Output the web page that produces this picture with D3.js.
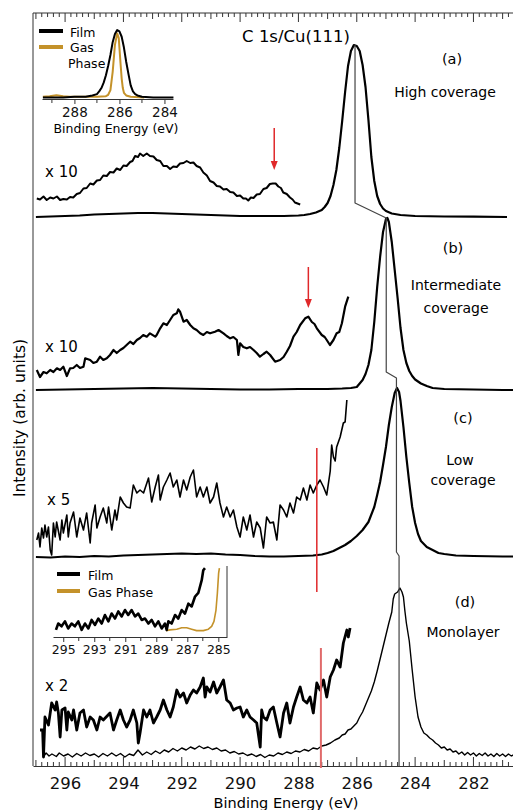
<!DOCTYPE html>
<html>
<head>
<meta charset="utf-8">
<script src="https://cdn.jsdelivr.net/npm/d3@7"></script>
<style>
  body { margin: 0; background: #fff; }
  svg { font-family: "DejaVu Sans", "Liberation Sans", Arial, sans-serif; }
</style>
</head>
<body>
<div id="chart"></div>
<script>
// ---- data: [binding energy (eV), intensity above the spectrum's own baseline] ----
const offsets = { a: 549, b: 376, c: 209, d: 9 };

const mainA = [[297.0,0],[296.5,0.5],[296,1],[295.5,1.5],[295,2.5],[294.5,3],[294,3.5],[293.5,4],[293,4],[292.5,3.5],[292,3],[291.5,2.5],[291,2],[290.5,1.5],[290,1],[289.5,1],[289,1],[288.5,1],[288,1.5],[287.8,2],[287.6,3],[287.4,4.5],[287.2,7],[287.1,10],[287.0,14],[286.9,21],[286.8,32],[286.7,47],[286.6,69],[286.5,96],[286.4,125],[286.3,151],[286.2,166],[286.1,172],[286.0,171],[285.9,166],[285.8,152],[285.7,130],[285.6,97],[285.5,60],[285.4,36],[285.3,21],[285.2,13],[285.1,8.5],[285.0,6],[284.8,3.5],[284.5,2],[284.0,1],[283.0,0.5],[282.0,0.3],[280.85,0]];

const x10A = [[296.97,18.5],[296.86,17.5],[296.74,20.5],[296.63,17],[296.51,19.5],[296.4,18.5],[296.28,20.5],[296.17,17],[296.06,18],[295.94,17.5],[295.83,20],[295.72,19.5],[295.6,23],[295.49,24],[295.37,28.5],[295.26,29],[295.14,33.5],[295.03,32.5],[294.91,36.5],[294.8,37],[294.69,41.5],[294.57,41],[294.46,45],[294.34,44.5],[294.23,48.5],[294.11,47],[294.0,51.5],[293.89,51],[293.77,55],[293.69,56],[293.6,61],[293.5,60],[293.43,63.5],[293.32,61],[293.2,63.5],[293.09,61],[292.97,60.5],[292.86,57],[292.74,56],[292.63,51],[292.51,51],[292.4,48],[292.29,50.5],[292.17,50],[292.06,53.5],[291.94,54],[291.83,56],[291.71,54],[291.6,54.5],[291.49,51],[291.37,49.5],[291.26,44.5],[291.14,41.5],[291.03,36],[290.91,34.5],[290.8,31],[290.69,30.5],[290.57,27.5],[290.46,28],[290.34,25],[290.23,24.5],[290.11,21],[290.0,21.5],[289.89,18.5],[289.8,18.5],[289.72,16.5],[289.63,19.5],[289.54,19],[289.43,22.5],[289.32,23],[289.2,28],[289.09,29],[288.98,33],[288.88,33.5],[288.78,33.5],[288.69,30.5],[288.6,29],[288.52,24.5],[288.4,23],[288.29,19.5],[288.2,17.5],[288.12,14.5],[288.03,13.5],[287.94,12.5]];

const mainB = [[297.0,0],[296,0.5],[295,1],[294,1.5],[293,2],[292,1.5],[291,1],[290,0.5],[289,0.5],[288,1],[287,1],[286.5,1.5],[286.2,2],[286.0,3],[285.8,10],[285.7,16],[285.6,25],[285.5,40],[285.4,68],[285.3,103],[285.2,133],[285.1,158],[285.0,171],[284.95,172],[284.9,168],[284.8,148],[284.7,120],[284.6,92],[284.5,62],[284.4,40],[284.3,27],[284.2,19],[284.1,14],[284.0,10.5],[283.8,6.5],[283.6,4],[283.4,2],[283.0,1],[282,0.5],[281,0],[280.4,0]];

const x10B = [[296.97,20],[296.86,13],[296.74,18],[296.63,16.7],[296.51,20],[296.4,18],[296.28,21.7],[296.17,20],[296.06,23.3],[295.94,14],[295.83,21.7],[295.72,22],[295.6,25],[295.49,22],[295.37,23.3],[295.31,31.7],[295.14,30],[295.03,27],[294.91,28.3],[294.8,33.3],[294.69,30],[294.57,31.7],[294.46,35],[294.34,40],[294.23,37],[294.11,40],[294.0,42],[293.89,45],[293.77,48.3],[293.66,46],[293.54,50],[293.43,52],[293.32,55],[293.2,53.3],[293.09,56.7],[292.91,53.3],[292.86,55],[292.74,61.7],[292.63,66.7],[292.51,65],[292.4,70],[292.29,75],[292.17,76.7],[292.12,80.7],[292.06,78.3],[291.94,68.3],[291.83,70],[291.71,65],[291.6,61.7],[291.49,60],[291.37,56.7],[291.26,55],[291.14,58],[291.03,56.7],[290.86,58.3],[290.74,60],[290.57,56.7],[290.46,54],[290.34,51.7],[290.23,53],[290.11,50],[290.06,35],[290.0,46.7],[289.89,43],[289.77,41.7],[289.66,43],[289.54,40],[289.43,37],[289.32,33.3],[289.2,36],[289.09,38.3],[288.97,35],[288.8,28.3],[288.63,30],[288.51,33],[288.4,38.3],[288.29,44],[288.17,53.3],[288.06,58],[287.94,65],[287.77,71.7],[287.66,73.3],[287.54,68],[287.45,66],[287.37,61.7],[287.2,55],[287.1,53],[287.03,50],[286.92,45],[286.8,50],[286.69,56.7],[286.6,58],[286.51,66.7],[286.4,83.3],[286.29,93.3]];

const mainC = [[297.0,0],[296.5,-0.5],[296,0.5],[295.5,0],[295,1],[294.5,0.5],[294,1.5],[293.5,2],[293,2.5],[292.5,3],[292,3.5],[291.5,3],[291,3.5],[290.5,2.5],[290,2],[289.5,1],[289,0.5],[288.5,0.5],[288,1],[287.5,1.5],[287.2,2.5],[287.0,4],[286.8,6],[286.6,9],[286.4,12],[286.2,16],[286.0,21],[285.8,27],[285.6,35],[285.4,50],[285.3,62],[285.2,75],[285.1,92],[285.0,110],[284.9,132],[284.8,150],[284.7,164],[284.62,169],[284.55,165],[284.5,156],[284.4,130],[284.3,100],[284.2,74],[284.1,50],[284.0,34],[283.9,23],[283.8,16],[283.6,10],[283.4,7],[283.2,4],[283.0,3],[282.6,1.5],[282,1],[281,0.5],[280.4,0.5]];

const x5C = [[296.97,17],[296.91,24],[296.86,10],[296.80,29],[296.74,19],[296.69,32],[296.63,20],[296.57,30],[296.51,7],[296.46,2],[296.40,34],[296.34,20],[296.29,35],[296.17,17],[296.11,37],[296.06,24],[295.94,42],[295.89,20],[295.83,34],[295.71,45],[295.60,20],[295.49,39],[295.37,27],[295.26,44],[295.14,14],[295.09,34],[294.97,52],[294.91,29],[294.80,40],[294.69,49],[294.57,34],[294.51,50],[294.40,27],[294.29,47],[294.23,37],[294.11,60],[294.00,54],[293.89,50],[293.77,49],[293.66,72],[293.54,64],[293.43,67],[293.31,64],[293.14,79],[293.03,55],[292.91,70],[292.80,82],[292.74,57],[292.63,70],[292.51,77],[292.40,84],[292.29,70],[292.17,77],[292.06,60],[291.94,77],[291.83,67],[291.71,80],[291.60,87],[291.49,60],[291.37,70],[291.26,60],[291.14,70],[291.03,54],[290.91,60],[290.80,74],[290.69,54],[290.57,40],[290.46,50],[290.34,40],[290.23,47],[290.11,30],[290.00,20],[289.89,40],[289.77,27],[289.66,42],[289.54,20],[289.43,35],[289.31,29],[289.20,9],[289.09,40],[288.97,34],[288.86,35],[288.74,17],[288.63,52],[288.51,47],[288.40,40],[288.29,54],[288.17,44],[288.06,60],[287.94,57],[287.83,69],[287.71,57],[287.60,72],[287.49,64],[287.37,72],[287.26,77],[287.14,70],[287.03,62],[286.91,86],[286.86,112],[286.80,100],[286.74,96],[286.69,110],[286.57,120],[286.46,134],[286.40,135],[286.34,157]];

const mainD = [[296.75,0],[296.65,4],[296.55,1],[296.45,3],[296.3,0.5],[296.2,4],[296.05,1],[295.9,3],[295.75,0],[295.6,3.5],[295.45,1],[295.3,4],[295.15,1.5],[295.0,3],[294.85,0],[294.7,3.5],[294.55,1],[294.4,4],[294.25,1],[294.1,3.5],[293.95,0],[293.8,3],[293.65,1.5],[293.5,7],[293.35,2],[293.2,5],[293.05,2.5],[292.9,6],[292.75,3.5],[292.6,7],[292.45,5],[292.3,8.5],[292.15,6],[292.0,9],[291.85,7],[291.7,10],[291.55,8],[291.4,11],[291.25,8.5],[291.1,10],[290.95,7.5],[290.8,9],[290.65,6],[290.5,7],[290.35,4],[290.2,5.5],[290.05,3],[289.9,4],[289.75,1.5],[289.6,3],[289.45,0.5],[289.3,2.5],[289.15,-0.5],[289.0,2],[288.85,1],[288.7,4],[288.55,2.5],[288.4,5],[288.25,3.5],[288.1,6],[287.95,5],[287.8,7.5],[287.65,6],[287.5,9],[287.35,8],[287.2,11],[287.05,12],[286.9,14],[286.75,17],[286.6,19],[286.5,22],[286.4,23],[286.3,27],[286.2,28],[286.1,31],[286.0,34],[285.9,40],[285.8,45],[285.7,52],[285.6,59],[285.5,66],[285.4,75],[285.3,86],[285.2,98],[285.1,110],[285.0,122],[284.9,134],[284.8,145],[284.75,158],[284.7,163],[284.6,165],[284.52,169],[284.45,165],[284.4,160],[284.35,146],[284.3,134],[284.2,116],[284.1,87],[284.0,60],[283.9,40],[283.8,30],[283.7,24],[283.6,22],[283.5,19],[283.4,17],[283.3,14],[283.2,12],[283.1,9],[283.0,10],[282.9,7],[282.8,8],[282.7,5],[282.6,6],[282.5,3],[282.4,5],[282.3,2],[282.2,4.5],[282.1,2],[282.0,4],[281.9,1],[281.8,3.5],[281.7,1.5],[281.6,4],[281.5,1],[281.4,3],[281.3,0.5],[281.2,3.5],[281.1,1],[281.0,3],[280.9,0.5],[280.8,3],[280.7,1],[280.6,2.5],[280.4,1]];

const x2D = [[296.86,27],[296.77,27],[296.74,0],[296.69,40],[296.57,32],[296.46,54],[296.34,47],[296.29,55],[296.23,44],[296.17,20],[296.11,47],[296.0,49],[295.94,27],[295.89,45],[295.77,37],[295.71,47],[295.6,27],[295.49,44],[295.37,47],[295.26,30],[295.14,40],[295.03,37],[294.91,27],[294.8,40],[294.69,37],[294.46,44],[294.34,27],[294.23,37],[294.11,47],[294.0,37],[293.89,30],[293.77,37],[293.66,47],[293.54,34],[293.49,14],[293.43,24],[293.31,47],[293.2,40],[293.09,47],[292.97,34],[292.86,40],[292.74,47],[292.63,57],[292.51,47],[292.4,40],[292.29,50],[292.17,67],[292.06,60],[291.94,64],[291.83,54],[291.71,62],[291.6,67],[291.49,64],[291.37,70],[291.26,79],[291.2,60],[291.14,70],[291.03,65],[290.91,75],[290.8,64],[290.69,70],[290.57,77],[290.46,57],[290.34,54],[290.23,47],[290.11,49],[290.0,50],[289.89,40],[289.77,47],[289.66,40],[289.54,37],[289.43,34],[289.31,10],[289.26,47],[289.2,40],[289.09,37],[288.97,47],[288.86,50],[288.74,34],[288.63,20],[288.51,44],[288.4,54],[288.29,34],[288.17,50],[288.06,60],[287.94,70],[287.83,57],[287.71,54],[287.6,60],[287.49,44],[287.37,74],[287.26,67],[287.14,77],[287.03,60],[286.91,80],[286.8,87],[286.69,97],[286.57,90],[286.46,114],[286.34,127],[286.29,120],[286.23,129]];

// peak-position guide line: [eV, intensity]
const peakTrack = [[286.06,721],[286.06,563],[284.99,548],[284.99,394],[284.64,388],[284.64,214],[284.55,210],[284.55,0]];

// red markers
const arrowE = [288.83, 287.66], arrowTop = [638, 499], arrowTip = [596, 458];
const barE = [287.37, 287.23], barTop = [318, 118], barBot = [174, -2];

// inset (a): normalised intensity
const filmA = [[289.4,0.0],[288.5,0.0],[288,0.01],[287.5,0.01],[287.2,0.03],[287.0,0.05],[286.9,0.09],[286.8,0.14],[286.7,0.22],[286.6,0.33],[286.5,0.47],[286.4,0.63],[286.3,0.82],[286.2,0.94],[286.1,1.0],[286.0,0.98],[285.9,0.90],[285.8,0.74],[285.7,0.53],[285.6,0.35],[285.5,0.18],[285.4,0.09],[285.3,0.05],[285.2,0.03],[285.0,0.01],[284.5,0],[283.6,0]];
const gasA = [[289.4,0.01],[289.1,0.02],[288.8,0.035],[288.5,0.02],[288.2,0.01],[287.5,0.01],[287,0.01],[286.6,0.02],[286.5,0.04],[286.4,0.11],[286.3,0.38],[286.2,0.78],[286.1,0.95],[286.03,0.88],[285.95,0.5],[285.9,0.28],[285.85,0.14],[285.8,0.07],[285.7,0.03],[285.5,0.01],[284.9,0.0]];

// inset (d)
const filmD = [[295.47,0.10],[295.32,0.19],[295.11,0.15],[294.89,0.22],[294.68,0.12],[294.46,0.19],[294.25,0.15],[294.03,0.22],[293.81,0.10],[293.6,0.19],[293.38,0.12],[293.17,0.24],[292.95,0.17],[292.74,0.26],[292.52,0.19],[292.31,0.31],[292.09,0.22],[291.88,0.33],[291.66,0.26],[291.45,0.36],[291.23,0.29],[291.02,0.38],[290.81,0.31],[290.59,0.38],[290.37,0.29],[290.16,0.33],[289.94,0.24],[289.73,0.26],[289.51,0.19],[289.3,0.24],[289.08,0.15],[288.87,0.22],[288.65,0.12],[288.44,0.19],[288.33,0.10],[288.22,0.22],[288.01,0.19],[287.79,0.31],[287.58,0.26],[287.36,0.38],[287.15,0.33],[286.93,0.47],[286.72,0.43],[286.5,0.57],[286.29,0.62],[286.07,0.80],[285.97,0.94],[285.86,0.97]];
const gasD = [[288.37,0.09],[288.12,0.10],[287.68,0.11],[287.36,0.13],[287.04,0.13],[286.72,0.11],[286.4,0.09],[285.97,0.09],[285.64,0.11],[285.43,0.15],[285.28,0.22],[285.15,0.38],[285.06,0.62],[284.98,0.90],[284.93,0.97]];

const mainTicks = [296, 294, 292, 290, 288, 286, 284, 282];
const insetATicks = [288, 286, 284];
const insetDTicks = [295, 293, 291, 289, 287, 285];

const gold = '#c4922a';
const red = '#e0282a';

// ---- layout ----
const width = 513, height = 810;
const svg = d3.select('#chart').append('svg')
  .attr('width', width).attr('height', height);

const x = d3.scaleLinear().domain([297.1, 280.5]).range([33, 517.2]);
const y = d3.scaleLinear().domain([0, 753]).range([766, 13]);

function trace(data, off, w, col, sx = x, sy = y) {
  svg.append('path')
    .datum(data)
    .attr('fill', 'none')
    .attr('stroke', col)
    .attr('stroke-width', w)
    .attr('stroke-linejoin', 'round')
    .attr('d', d3.line().x(d => sx(d[0])).y(d => sy(d[1] + off)));
}

// axes
const minor = d3.range(280.6, 297.1, 0.2).map(v => +v.toFixed(1));
function tickLen(v) {
  if (Math.abs(v - Math.round(v)) > 0.01) return 4;
  return Math.round(v) % 2 === 0 ? 9 : 6;
}
svg.append('g').selectAll('line').data(minor).join('line')
  .attr('x1', d => x(d)).attr('x2', d => x(d))
  .attr('y1', y(0)).attr('y2', d => y(0) - tickLen(d))
  .attr('stroke', '#333');
svg.append('g').selectAll('line').data(minor).join('line')
  .attr('x1', d => x(d)).attr('x2', d => x(d))
  .attr('y1', y(753)).attr('y2', d => y(753) + tickLen(d))
  .attr('stroke', '#333');

svg.append('g')
  .attr('transform', `translate(0, ${y(0)})`)
  .call(d3.axisBottom(x).tickValues(mainTicks).tickSize(0).tickSizeOuter(0).tickPadding(11).tickFormat(d3.format('d')))
  .call(g => g.select('.domain').attr('stroke', '#333'))
  .call(g => g.selectAll('text').attr('font-size', '16.5px').attr('fill', '#111').attr('font-family', '"DejaVu Sans", sans-serif'));

svg.append('line').attr('x1', 33).attr('x2', 513).attr('y1', y(753)).attr('y2', y(753)).attr('stroke', '#333');
svg.append('line').attr('x1', 33).attr('x2', 33).attr('y1', y(753)).attr('y2', y(0)).attr('stroke', '#333');

svg.append('text')
  .attr('x', 286).attr('y', 808)
  .attr('text-anchor', 'middle').attr('font-size', '14.5px')
  .text('Binding Energy (eV)');

svg.append('text')
  .attr('transform', 'translate(25, 418) rotate(-90)')
  .attr('text-anchor', 'middle').attr('font-size', '15.5px')
  .text('Intensity (arb. units)');

// spectra
trace(mainA, offsets.a, 2.2, '#000');
trace(x10A, offsets.a, 2, '#000');
trace(mainB, offsets.b, 2.2, '#000');
trace(x10B, offsets.b, 2.2, '#000');
trace(mainC, offsets.c, 2.2, '#000');
trace(x5C, offsets.c, 1.6, '#000');
trace(mainD, offsets.d, 1.4, '#000');
trace(x2D, offsets.d, 2.8, '#000');
trace(peakTrack, 0, 1.2, '#444');

// red markers
svg.append('g').selectAll('line').data(arrowE).join('line')
  .attr('x1', d => x(d)).attr('x2', d => x(d))
  .attr('y1', (d, i) => y(arrowTop[i])).attr('y2', (d, i) => y(arrowTip[i]) - 7)
  .attr('stroke', red).attr('stroke-width', 1.5);
svg.append('g').selectAll('path').data(arrowE).join('path')
  .attr('d', (d, i) => `M${x(d) - 3.5},${y(arrowTip[i]) - 9}L${x(d) + 3.5},${y(arrowTip[i]) - 9}L${x(d)},${y(arrowTip[i])}Z`)
  .attr('fill', red);
svg.append('g').selectAll('line').data(barE).join('line')
  .attr('x1', d => x(d)).attr('x2', d => x(d))
  .attr('y1', (d, i) => y(barTop[i])).attr('y2', (d, i) => y(barBot[i]))
  .attr('stroke', (d, i) => i ? '#e06a6a' : red).attr('stroke-width', (d, i) => i ? 2 : 1.5);

// labels
const labels = [
  ['C 1s/Cu(111)', 296, 42, 16.5, 'middle'],
  ['(a)', 452, 64, 14.5, 'middle'],
  ['High coverage', 445, 97, 14, 'middle'],
  ['(b)', 453, 253, 14.5, 'middle'],
  ['Intermediate', 456, 290, 14, 'middle'],
  ['coverage', 456, 313, 14, 'middle'],
  ['(c)', 463, 423, 14.5, 'middle'],
  ['Low', 460, 465, 14, 'middle'],
  ['coverage', 463, 485, 14, 'middle'],
  ['(d)', 465, 607, 14.5, 'middle'],
  ['Monolayer', 463, 637, 14, 'middle'],
  ['x 10', 45, 177, 15, 'start'],
  ['x 10', 45, 352, 15, 'start'],
  ['x 5', 47, 505, 15, 'start'],
  ['x 2', 45, 691, 15, 'start']
];
svg.append('g').selectAll('text').data(labels).join('text')
  .attr('x', d => d[1]).attr('y', d => d[2])
  .attr('font-size', d => d[3] + 'px').attr('text-anchor', d => d[4])
  .text(d => d[0]);

// ---- inset (a) ----
const xa = d3.scaleLinear().domain([289.44, 283.62]).range([42, 173]);
const ya = d3.scaleLinear().domain([0, 1]).range([97.5, 30]);
svg.append('g')
  .attr('transform', 'translate(0, 99)')
  .call(d3.axisBottom(xa).tickValues(insetATicks).tickSize(5).tickSizeOuter(0).tickPadding(3).tickFormat(d3.format('d')))
  .call(g => g.select('.domain').attr('stroke', '#333'))
  .call(g => g.selectAll('line').attr('stroke', '#333'))
  .call(g => g.selectAll('text').attr('font-size', '13.5px').attr('fill', '#111').attr('font-family', '"DejaVu Sans", sans-serif'));
svg.append('g').selectAll('line').data([289, 287, 285]).join('line')
  .attr('x1', d => xa(d)).attr('x2', d => xa(d)).attr('y1', 99).attr('y2', 103).attr('stroke', '#333');
svg.append('text').attr('x', 116).attr('y', 133).attr('text-anchor', 'middle')
  .attr('font-size', '12.5px').text('Binding Energy (eV)');
trace(gasA, 0, 2, gold, xa, ya);
trace(filmA, 0, 2, '#000', xa, ya);

svg.append('line').attr('x1', 39).attr('x2', 63).attr('y1', 31).attr('y2', 31).attr('stroke', '#000').attr('stroke-width', 4);
svg.append('line').attr('x1', 39).attr('x2', 63).attr('y1', 47).attr('y2', 47).attr('stroke', gold).attr('stroke-width', 4);
svg.append('text').attr('x', 70).attr('y', 36.5).attr('font-size', '12.5px').text('Film');
svg.append('text').attr('x', 70).attr('y', 52).attr('font-size', '12.5px').text('Gas');
svg.append('text').attr('x', 68).attr('y', 67.5).attr('font-size', '12.5px').text('Phase');

// ---- inset (d) ----
const xd = d3.scaleLinear().domain([295.66, 284.44]).range([53, 227]);
const yd = d3.scaleLinear().domain([0, 1]).range([637, 566]);
svg.append('g')
  .attr('transform', 'translate(0, 637)')
  .call(d3.axisBottom(xd).tickValues(insetDTicks).tickSize(5).tickSizeOuter(0).tickPadding(3).tickFormat(d3.format('d')))
  .call(g => g.select('.domain').attr('stroke', '#333'))
  .call(g => g.selectAll('line').attr('stroke', '#333'))
  .call(g => g.selectAll('text').attr('font-size', '12.5px').attr('fill', '#111').attr('font-family', '"DejaVu Sans", sans-serif'));
svg.append('g').selectAll('line').data([294, 292, 290, 288, 286]).join('line')
  .attr('x1', d => xd(d)).attr('x2', d => xd(d)).attr('y1', 637).attr('y2', 641).attr('stroke', '#333');
svg.append('line').attr('x1', 227).attr('x2', 227).attr('y1', 566).attr('y2', 637).attr('stroke', '#333');
trace(gasD, 0, 1.6, gold, xd, yd);
trace(filmD, 0, 2.6, '#000', xd, yd);

svg.append('line').attr('x1', 57).attr('x2', 80).attr('y1', 574).attr('y2', 574).attr('stroke', '#000').attr('stroke-width', 4);
svg.append('line').attr('x1', 57).attr('x2', 80).attr('y1', 591).attr('y2', 591).attr('stroke', gold).attr('stroke-width', 4);
svg.append('text').attr('x', 88).attr('y', 579.5).attr('font-size', '12.5px').text('Film');
svg.append('text').attr('x', 88).attr('y', 596.5).attr('font-size', '12.5px').text('Gas Phase');
</script>
</body>
</html>
